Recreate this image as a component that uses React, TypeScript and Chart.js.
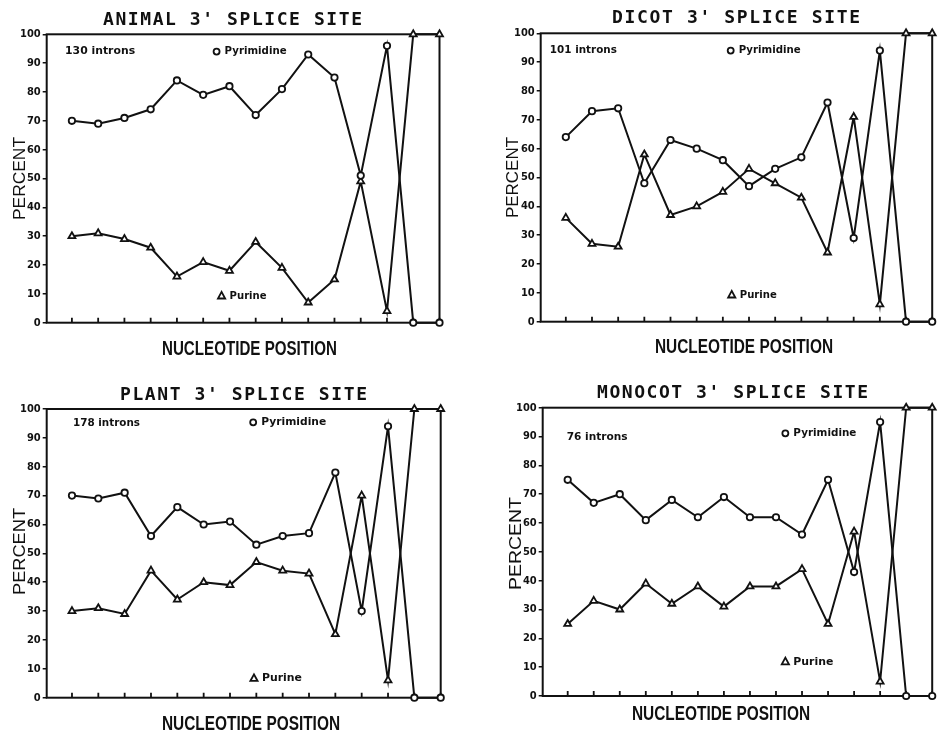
import React, { useEffect, useRef } from 'react';
import { Chart, registerables } from 'chart.js';

Chart.register(...registerables);

// ---------- data ----------
const positions = [1, 2, 3, 4, 5, 6, 7, 8, 9, 10, 11, 12, 13, 14, 15];
const yTicks = [0, 10, 20, 30, 40, 50, 60, 70, 80, 90, 100];

const animalPyrimidine = [70, 69, 71, 74, 84, 79, 82, 72, 81, 93, 85, 51, 96, 0, 0];
const animalPurine = [30, 31, 29, 26, 16, 21, 18, 28, 19, 7, 15, 49, 4, 100, 100];

const dicotPyrimidine = [64, 73, 74, 48, 63, 60, 56, 47, 53, 57, 76, 29, 94, 0, 0];
const dicotPurine = [36, 27, 26, 58, 37, 40, 45, 53, 48, 43, 24, 71, 6, 100, 100];

const plantPyrimidine = [70, 69, 71, 56, 66, 60, 61, 53, 56, 57, 78, 30, 94, 0, 0];
const plantPurine = [30, 31, 29, 44, 34, 40, 39, 47, 44, 43, 22, 70, 6, 100, 100];

const monocotPyrimidine = [75, 67, 70, 61, 68, 62, 69, 62, 62, 56, 75, 43, 95, 0, 0];
const monocotPurine = [25, 33, 30, 39, 32, 38, 31, 38, 38, 44, 25, 57, 5, 100, 100];

const titles = ["ANIMAL 3' SPLICE SITE", "DICOT 3' SPLICE SITE", "PLANT 3' SPLICE SITE", "MONOCOT 3' SPLICE SITE"];
const intronLabels = ['130 introns', '101 introns', '178 introns', '76 introns'];
const yAxisTitle = 'PERCENT';
const xAxisTitle = 'NUCLEOTIDE POSITION';
const pyrLabel = 'Pyrimidine';
const purLabel = 'Purine';

// ---------- layout ----------
type Pt = { x: number; y: number; w: number };
type Panel = {
  title: string;
  introns: string;
  pyr: number[];
  pur: number[];
  left: number; top: number; w: number; h: number;
  area: { l: number; t: number; r: number; b: number };
  titleBox: { cx: number; base: number; w: number };
  yTitle: { cx: number; cy: number; w: number };
  xTitle: { cx: number; base: number; w: number };
  intronsPos: Pt; // data coords (x value, y value), text width px
  pyrPos: Pt;
  purPos: Pt;
};

const panels: Panel[] = [
  {
    title: titles[0], introns: intronLabels[0], pyr: animalPyrimidine, pur: animalPurine,
    left: 0, top: 0, w: 470, h: 362,
    area: { l: 46.7, t: 34.3, r: 439.5, b: 322.7 },
    titleBox: { cx: 232.5, base: 24.5, w: 259 },
    yTitle: { cx: 18.5, cy: 178.5, w: 83 },
    xTitle: { cx: 249.5, base: 355, w: 175 },
    intronsPos: { x: 0.74, y: 94, w: 70 },
    pyrPos: { x: 6.51, y: 94, w: 62 },
    purPos: { x: 6.7, y: 9.3, w: 37 },
  },
  {
    title: titles[1], introns: intronLabels[1], pyr: dicotPyrimidine, pur: dicotPurine,
    left: 470, top: 0, w: 468, h: 362,
    area: { l: 70.7, t: 33.3, r: 465.7, b: 321.7 },
    titleBox: { cx: 266, base: 23, w: 248 },
    yTitle: { cx: 41.5, cy: 177.5, w: 81 },
    xTitle: { cx: 274, base: 353, w: 178 },
    intronsPos: { x: 0.39, y: 94, w: 67 },
    pyrPos: { x: 7.3, y: 94, w: 62 },
    purPos: { x: 7.34, y: 9.3, w: 37 },
  },
  {
    title: titles[2], introns: intronLabels[2], pyr: plantPyrimidine, pur: plantPurine,
    left: 0, top: 362, w: 470, h: 371,
    area: { l: 46.7, t: 47, r: 440.7, b: 335.7 },
    titleBox: { cx: 243.5, base: 38, w: 247 },
    yTitle: { cx: 18.5, cy: 189.5, w: 87 },
    xTitle: { cx: 251, base: 368, w: 178 },
    intronsPos: { x: 1.04, y: 95, w: 67 },
    pyrPos: { x: 7.88, y: 95.4, w: 65 },
    purPos: { x: 7.91, y: 6.7, w: 40 },
  },
  {
    title: titles[3], introns: intronLabels[3], pyr: monocotPyrimidine, pur: monocotPurine,
    left: 470, top: 362, w: 468, h: 371,
    area: { l: 72.7, t: 45.7, r: 466.5, b: 334 },
    titleBox: { cx: 262.5, base: 36, w: 271 },
    yTitle: { cx: 45, cy: 181.5, w: 93 },
    xTitle: { cx: 251, base: 358, w: 178 },
    intronsPos: { x: 0.96, y: 89.9, w: 61 },
    pyrPos: { x: 9.36, y: 91.1, w: 63 },
    purPos: { x: 9.36, y: 11.9, w: 40 },
  },
];

const INK = '#111';

function fitText(ctx: CanvasRenderingContext2D, text: string, x: number, y: number, w: number, font: string, align: CanvasTextAlign) {
  ctx.save();
  ctx.font = font;
  const m = ctx.measureText(text).width;
  ctx.translate(x, y);
  ctx.scale(w / m, 1);
  ctx.textAlign = align;
  ctx.textBaseline = 'middle';
  ctx.fillText(text, 0, 0);
  ctx.restore();
}

function makePlugin(p: Panel) {
  return {
    id: 'decor',
    beforeDatasetsDraw(chart: any) {
      const ctx: CanvasRenderingContext2D = chart.ctx;
      const a = chart.chartArea;
      const xs = chart.scales.x;
      ctx.save();
      ctx.strokeStyle = INK;
      ctx.lineWidth = 2;
      ctx.strokeRect(a.left, a.top, a.right - a.left, a.bottom - a.top);
      ctx.lineWidth = 1.8;
      ctx.beginPath();
      positions.forEach((v) => {
        const x = xs.getPixelForValue(v);
        ctx.moveTo(x, a.bottom);
        ctx.lineTo(x, a.bottom - 5);
      });
      ctx.stroke();
      ctx.restore();
    },
    afterDraw(chart: any) {
      const ctx: CanvasRenderingContext2D = chart.ctx;
      const xs = chart.scales.x;
      const ys = chart.scales.y;
      ctx.save();
      ctx.fillStyle = INK;
      ctx.strokeStyle = INK;

      // title with letter spacing
      ctx.font = 'bold 18px "DejaVu Sans Mono"';
      (ctx as any).letterSpacing = '0px';
      const m = ctx.measureText(p.title).width;
      const ls = (p.titleBox.w - m) / (p.title.length - 1);
      (ctx as any).letterSpacing = ls + 'px';
      ctx.textAlign = 'left';
      ctx.textBaseline = 'alphabetic';
      ctx.fillText(p.title, p.titleBox.cx - p.titleBox.w / 2, p.titleBox.base);
      (ctx as any).letterSpacing = '0px';

      // x axis title (condensed bold)
      ctx.save();
      ctx.font = 'bold 20px "Liberation Sans"';
      const mx = ctx.measureText(xAxisTitle).width;
      ctx.translate(p.xTitle.cx, p.xTitle.base);
      ctx.scale(p.xTitle.w / mx, 1);
      ctx.textAlign = 'center';
      ctx.textBaseline = 'alphabetic';
      ctx.fillText(xAxisTitle, 0, 0);
      ctx.restore();

      // y axis title rotated
      ctx.save();
      ctx.font = '17px "Liberation Sans"';
      const my = ctx.measureText(yAxisTitle).width;
      ctx.translate(p.yTitle.cx + 6.1, p.yTitle.cy);
      ctx.rotate(-Math.PI / 2);
      ctx.scale(p.yTitle.w / my, 1);
      ctx.textAlign = 'center';
      ctx.textBaseline = 'alphabetic';
      ctx.fillText(yAxisTitle, 0, 0);
      ctx.restore();

      const small = 'bold 11px "DejaVu Sans"';
      // introns count
      fitText(ctx, p.introns, xs.getPixelForValue(p.intronsPos.x), ys.getPixelForValue(p.intronsPos.y), p.intronsPos.w, small, 'left');

      // pyrimidine legend marker + text
      const px = xs.getPixelForValue(p.pyrPos.x);
      const py = ys.getPixelForValue(p.pyrPos.y);
      ctx.lineWidth = 1.8;
      ctx.fillStyle = '#fff';
      ctx.beginPath();
      ctx.arc(px, py, 3, 0, Math.PI * 2);
      ctx.fill();
      ctx.stroke();
      ctx.fillStyle = INK;
      fitText(ctx, pyrLabel, px + 8, py, p.pyrPos.w, small, 'left');

      // purine legend marker + text
      const tx = xs.getPixelForValue(p.purPos.x);
      const ty = ys.getPixelForValue(p.purPos.y);
      ctx.fillStyle = '#fff';
      ctx.beginPath();
      ctx.moveTo(tx, ty - 4);
      ctx.lineTo(tx - 3.6, ty + 2.6);
      ctx.lineTo(tx + 3.6, ty + 2.6);
      ctx.closePath();
      ctx.fill();
      ctx.stroke();
      ctx.fillStyle = INK;
      fitText(ctx, purLabel, tx + 8, ty, p.purPos.w, small, 'left');

      ctx.restore();
    },
  };
}

function PanelChart({ p }: { p: Panel }) {
  const ref = useRef<HTMLCanvasElement>(null);
  useEffect(() => {
    const canvas = ref.current;
    if (!canvas) return;
    const mk = (vals: number[]) => positions.map((x, i) => ({ x, y: vals[i] }));
    const common = {
      borderColor: INK,
      borderWidth: 2,
      pointBorderColor: INK,
      pointBackgroundColor: '#fff',
      pointBorderWidth: 1.8,
      tension: 0,
      clip: false as any,
      fill: false,
    };
    const chart = new Chart(canvas, {
      type: 'line',
      data: {
        datasets: [
          { ...common, label: pyrLabel, data: mk(p.pyr), pointStyle: 'circle', pointRadius: 3.2 },
          { ...common, label: purLabel, data: mk(p.pur), pointStyle: 'triangle', pointRadius: 4 },
        ],
      },
      options: {
        responsive: false,
        animation: false,
        devicePixelRatio: 1,
        layout: { padding: { left: 0, top: p.area.t, right: p.w - p.area.r, bottom: 0 } },
        plugins: {
          legend: { display: false },
          tooltip: { enabled: false },
          title: { display: false },
        },
        scales: {
          x: {
            type: 'linear',
            min: 0.04,
            max: 15,
            ticks: { display: false },
            grid: { display: false },
            border: { display: false },
            afterFit: (s: any) => { s.height = p.h - p.area.b; },
          },
          y: {
            type: 'linear',
            min: 0,
            max: 100,
            afterBuildTicks: (s: any) => { s.ticks = yTicks.map((v) => ({ value: v })); },
            ticks: {
              color: INK,
              padding: 2,
              font: { family: '"DejaVu Sans Condensed", "DejaVu Sans"', size: 11, weight: 'bold' },
            },
            grid: { drawOnChartArea: false, drawTicks: true, tickLength: 4, color: INK, lineWidth: 1.5 },
            border: { display: false },
            afterFit: (s: any) => { s.width = p.area.l; },
          },
        },
      } as any,
      plugins: [makePlugin(p)],
    });
    return () => chart.destroy();
  }, [p]);
  return (
    <canvas
      ref={ref}
      width={p.w}
      height={p.h}
      style={{ position: 'absolute', left: p.left, top: p.top, width: p.w, height: p.h }}
    />
  );
}

export default function App() {
  return (
    <div style={{ position: 'absolute', left: 0, top: 0, width: 938, height: 733, background: '#fff', overflow: 'hidden' }}>
      {panels.map((p, i) => (
        <PanelChart key={i} p={p} />
      ))}
    </div>
  );
}
